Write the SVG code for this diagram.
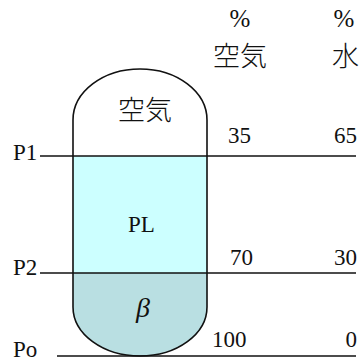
<svg xmlns="http://www.w3.org/2000/svg" width="361" height="362" viewBox="0 0 361 362">
<style>
.t{font-family:"Liberation Serif","Noto Sans CJK JP",serif;fill:#111;}
.n{font-size:23px;}
.j{font-size:27px;font-weight:300;}
.ln{stroke:#111;stroke-width:1.6;fill:none;}
</style>
<rect width="361" height="362" fill="#fff"/>
<g id="vessel">
<rect x="73" y="156" width="134" height="117" fill="#CCFFFF"/>
<path d="M73,273 H207 V307 A67,49 0 0 1 73,307 Z" fill="#B9DFE2"/>
<path class="ln" d="M73,120 A67,51 0 0 1 207,120 V307 A67,49 0 0 1 73,307 Z"/>
</g>
<g id="connectors">
<line class="ln" x1="40" y1="156" x2="356" y2="156"/>
<line class="ln" x1="40" y1="273" x2="356" y2="273"/>
<line class="ln" x1="57" y1="356" x2="356" y2="356"/>
</g>
<g id="header">
<text class="t" x="240" y="27" text-anchor="middle" style="font-size:25px;">%</text>
<text class="t" x="344" y="27" text-anchor="middle" style="font-size:25px;">%</text>
<text class="t j" x="213" y="66">空気</text>
<text class="t j" x="332" y="66">水</text>
</g>
<g id="labels">
<text class="t j" x="118" y="120">空気</text>
<text class="t n" x="128" y="232">PL</text>
<text class="t" x="136" y="317" style="font-size:28px;font-style:italic;">β</text>
<text class="t n" x="13" y="160">P1</text>
<text class="t n" x="13" y="275">P2</text>
<text class="t n" x="13" y="357">Po</text>
</g>
<g id="values">
<text class="t n" x="228" y="143">35</text>
<text class="t n" x="357" y="143" text-anchor="end">65</text>
<text class="t n" x="230" y="265">70</text>
<text class="t n" x="357" y="265" text-anchor="end">30</text>
<text class="t n" x="212" y="347">100</text>
<text class="t n" x="357" y="347" text-anchor="end">0</text>
</g>
</svg>
